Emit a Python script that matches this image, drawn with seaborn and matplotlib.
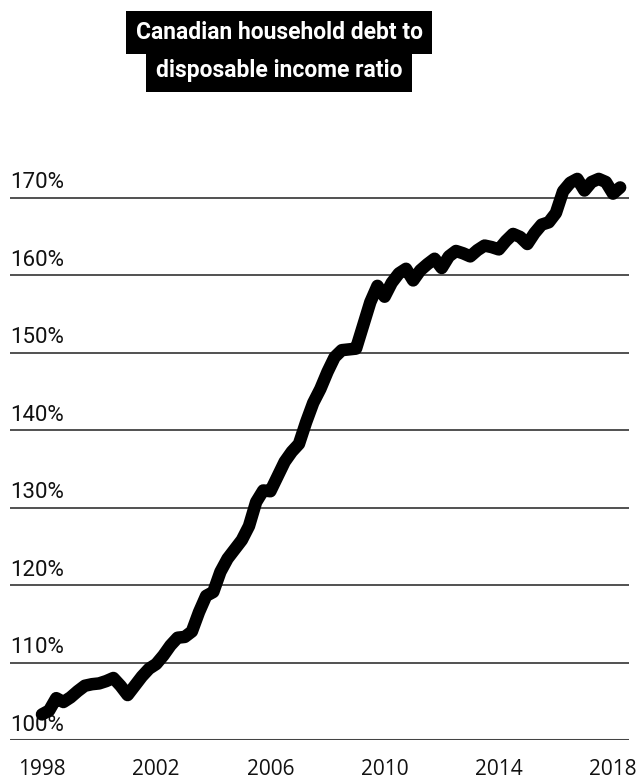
import numpy as np
import pandas as pd
import matplotlib
matplotlib.use("Agg")
import matplotlib.pyplot as plt
import seaborn as sns

# quarterly readings, 1998Q1 .. 2018Q2
quarters = np.arange(1998.0, 2018.26, 0.25)
ratio = [
    103.3, 103.8, 105.4, 104.9,   # 1998
    105.5, 106.3, 107.0, 107.2,   # 1999
    107.3, 107.6, 108.0, 107.0,   # 2000
    105.8, 107.0, 108.2, 109.2,   # 2001
    109.8, 110.9, 112.2, 113.2,   # 2002
    113.3, 114.0, 116.5, 118.6,   # 2003
    119.1, 121.7, 123.4, 124.6,   # 2004
    125.8, 127.6, 130.7, 132.2,   # 2005
    132.1, 134.0, 135.9, 137.2,   # 2006
    138.2, 141.0, 143.5, 145.3,   # 2007
    147.5, 149.4, 150.3, 150.4,   # 2008
    150.5, 153.5, 156.5, 158.6,   # 2009
    157.2, 159.0, 160.2, 160.8,   # 2010
    159.3, 160.6, 161.4, 162.1,   # 2011
    160.9, 162.4, 163.1, 162.8,   # 2012
    162.4, 163.2, 163.8, 163.6,   # 2013
    163.3, 164.4, 165.3, 164.9,   # 2014
    164.0, 165.4, 166.5, 166.8,   # 2015
    168.0, 170.8, 171.9, 172.4,   # 2016
    170.9, 172.0, 172.4, 172.0,   # 2017
    170.5, 171.3,                 # 2018
]
year_ticks = [1998, 2002, 2006, 2010, 2014, 2018]
pct_ticks = [100, 110, 120, 130, 140, 150, 160, 170]
title_lines = ["Canadian household debt to", "disposable income ratio"]

df = pd.DataFrame({"year": quarters, "ratio": ratio})

sns.set_style("white")
plt.rcParams["font.family"] = ["Roboto", "DejaVu Sans"]

W, H = 636, 779
fig = plt.figure(figsize=(W / 100, H / 100), dpi=100)
ax = fig.add_axes([10 / W, (H - 740) / H, 619 / W, (740 - 151) / H])

# gridlines
for v in pct_ticks[1:]:
    ax.axhline(v, color="#222222", lw=1.1, zorder=1)
ax.axhline(100, color="#444444", lw=2.2, zorder=1)

sns.lineplot(data=df, x="year", y="ratio", ax=ax, color="black", lw=9,
             solid_capstyle="round", solid_joinstyle="round", zorder=3)

ax.set_xlim(1996.88, 2018.56)
ax.set_ylim(100, 176)
sns.despine(ax=ax, left=True, bottom=True)

# y labels sit above each gridline at the left edge
for v in pct_ticks:
    ax.annotate(f"{v}%", xy=(0, v), xycoords=("axes fraction", "data"),
                xytext=(0, 3), textcoords="offset points",
                ha="left", va="bottom", fontsize=16, color="#111111", zorder=2)
ax.set_yticks([])

ax.set_xticks(year_ticks)
ax.set_xticklabels([str(y) for y in year_ticks], fontsize=15,
                   family=["Open Sans", "DejaVu Sans"], color="#111111")
ax.tick_params(axis="x", length=0, pad=14)
ax.set_xlabel("")
ax.set_ylabel("")

# title: white bold text on black boxes, one per line
for i, line in enumerate(title_lines):
    fig.text(279 / W, 1 - (32.5 + 38.5 * i) / H, line, ha="center", va="center",
             fontsize=16.5, fontweight="bold", color="white",
             bbox=dict(boxstyle="square,pad=0.43", fc="black", ec="none"))

fig.savefig("out.png", dpi=100, facecolor="white")
